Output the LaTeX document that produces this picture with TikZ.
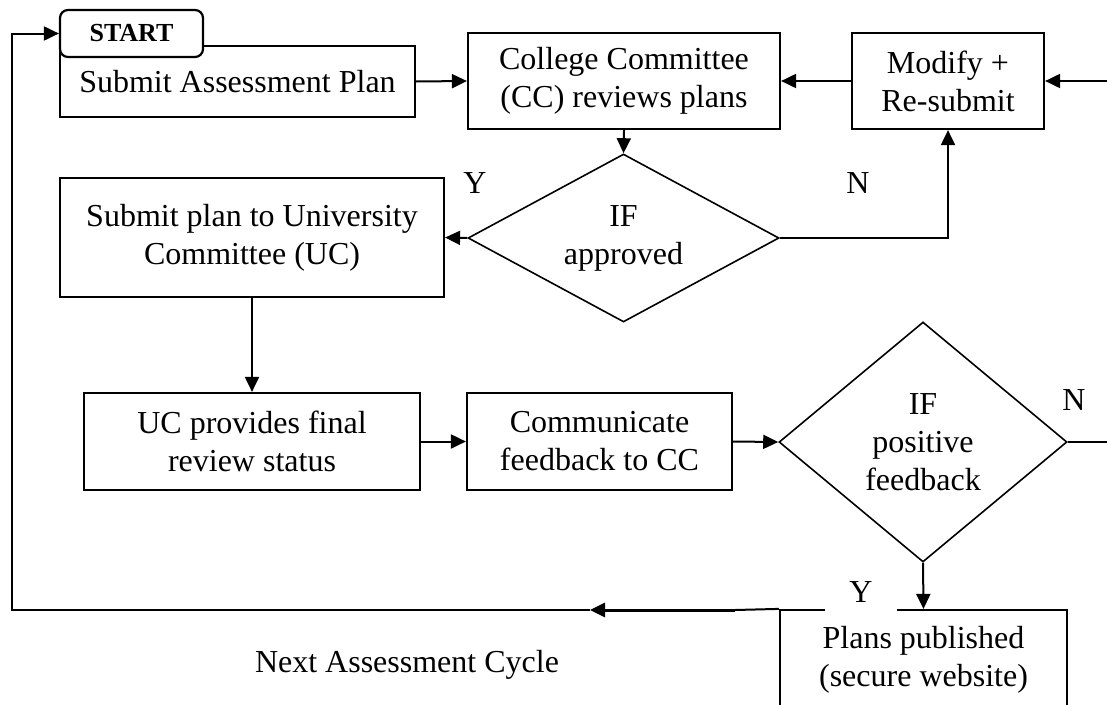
\documentclass[tikz,border=0pt]{standalone}
\usepackage{fontspec}
\setmainfont{Liberation Serif}
\usetikzlibrary{arrows.meta,shapes.geometric}
\begin{document}
\tikzset{
  base/.style={font=\fontsize{32}{38}\selectfont},
  box/.style={draw, line width=2.2pt, align=center, inner sep=0pt, base},
  dia/.style={draw, diamond, line width=1.6pt, align=center, inner sep=0pt, base},
  conn/.style={line width=2pt},
  arr/.style={line width=2pt, -{Triangle[length=15pt,width=14pt]}},
  lbl/.style={base, inner sep=0pt},
}
\begin{tikzpicture}[x=1pt,y=-1pt]
\useasboundingbox (0,0) rectangle (1107,704);
\clip (0,0) rectangle (1107,704);
% boxes
\node[box, minimum width=355pt, minimum height=71pt] (sap) at (237.5,81.5) {Submit Assessment Plan};
\node[box, minimum width=312pt, minimum height=96pt] (cc) at (624,81) {College Committee\\(CC) reviews plans};
\node[box, minimum width=192pt, minimum height=96pt] (mod) at (948,81) {Modify +\\Re-submit};
\node[dia, minimum width=311pt, minimum height=168pt, aspect=1.85] (d1) at (623.5,238) {IF\\approved};
\node[box, minimum width=384pt, minimum height=119pt] (sup) at (252,237.5) {Submit plan to University\\Committee (UC)};
\node[box, minimum width=336pt, minimum height=97pt] (uc) at (252,441.5) {UC provides final\\review status};
\node[box, minimum width=265pt, minimum height=97pt] (com) at (599.5,441.5) {Communicate\\feedback to CC};
\node[dia, minimum width=288pt, minimum height=240pt, aspect=1.2] (d2) at (923,442) {IF\\positive\\feedback};
\node[box, minimum width=287pt, minimum height=100pt] (pub) at (923.5,660) {Plans published\\(secure website)};
\node[box, rounded corners=8pt, fill=white, minimum width=143pt, minimum height=47pt,
      font=\fontsize{26}{30}\selectfont\bfseries] (start) at (131.5,33.5) {START};
% labels
\node[lbl] (y1) at (475,183) {Y};
\node[lbl] (n1) at (858,183) {N};
\node[lbl] (n2) at (1074,400) {N};
\node[lbl, fill=white, minimum width=72pt, minimum height=44pt] (y2) at (861,592) {Y};
\node[lbl] (next) at (407,665) {Next Assessment Cycle};
% free ends
\coordinate (rin) at (1107,81);
\coordinate (rout) at (1107,442);
\coordinate (ba) at (735,610);
\coordinate (bt) at (590,610);
\coordinate (bl) at (12,610);
\coordinate (tl) at (12,33.5);
% connectors
\draw[arr] (sap.east) -- (cc.west);
\draw[arr] (mod.west) -- (cc.east);
\draw[arr] (rin) -- (mod.east);
\draw[arr] (cc.south) -- (d1.north);
\draw[arr] (d1.west) -- (sup.east);
\draw[arr] (d1.east) -| (mod.south);
\draw[arr] (sup.south) -- (uc.north);
\draw[arr] (uc.east) -- (com.west);
\draw[arr] (com.east) -- (d2.west);
\draw[conn] (d2.east) -- (rout);
\draw[arr] (d2.south) -- (pub.north);
\draw[conn] (pub.north west) -- (ba);
\draw[arr, line width=3pt] (ba) -- (bt);
\draw[arr, line join=miter] (bt) -- (bl) -- (tl) -- (start.west);
\end{tikzpicture}
\end{document}
